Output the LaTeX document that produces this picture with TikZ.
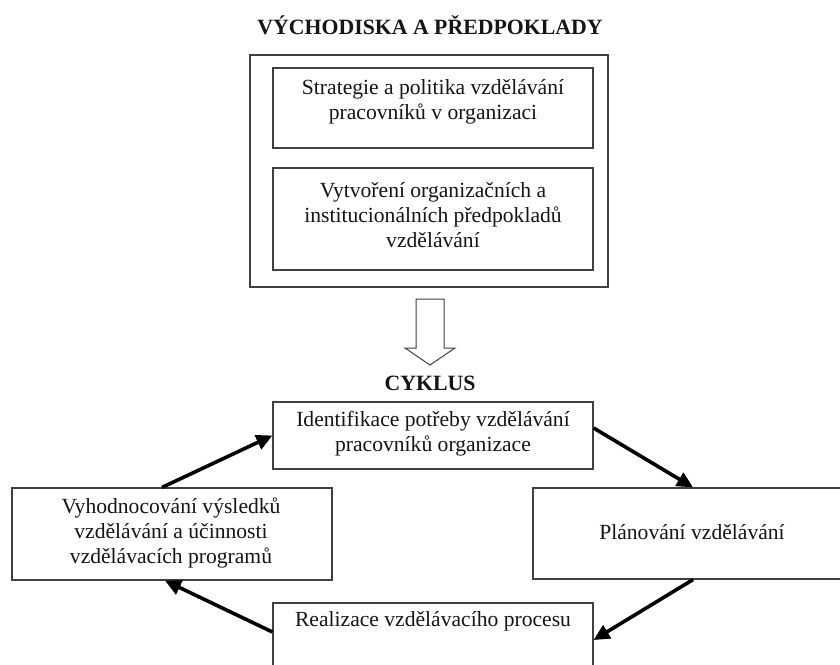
\documentclass[tikz,border=0pt]{standalone}
\usepackage{fontspec}
\setmainfont{Liberation Serif}
\usetikzlibrary{arrows.meta}
\definecolor{boxline}{HTML}{404040}
\definecolor{txt}{HTML}{151515}
\tikzset{
  box/.style={draw=boxline, line width=1.2pt, rectangle, inner sep=0pt},
  boxtext/.style={align=center, inner sep=0pt, text=txt, font=\fontsize{21.6}{25.2}\selectfont},
  heading/.style={inner sep=0pt, text=txt, font=\fontsize{21.8}{24}\selectfont\bfseries},
  flow/.style={line width=3.6pt, -{Triangle[length=16pt,width=15pt]}}
}
\begin{document}
\begin{tikzpicture}[x=1pt,y=-1pt]
\useasboundingbox (0,0) rectangle (840,664);
\clip (0,0) rectangle (840,664);
\fill[white] (0,0) rectangle (840,664);

\node[heading] (title) at (430,25) {VÝCHODISKA A PŘEDPOKLADY};
\node[box, minimum width=358pt, minimum height=232pt] (outer) at (429,171) {};
\node[box, minimum width=320pt, minimum height=80pt] (s1) at (433,108) {};
\node[boxtext] (s1t) at (433,102) {Strategie a politika vzdělávání\\pracovníků v organizaci};
\node[box, minimum width=320pt, minimum height=102pt] (s2) at (433,219) {};
\node[boxtext] (s2t) at (433,215) {Vytvoření organizačních a\\institucionálních předpokladů\\vzdělávání};

\draw[boxline, line width=1pt, fill=white] (416,299) -- (444,299) -- (444,348) -- (455,348) -- (430,365) -- (405,348) -- (416,348) -- cycle;

\node[heading] (cyc) at (430,383) {CYKLUS};

\node[box, minimum width=320pt, minimum height=67pt] (ident) at (433,435.5) {};
\node[boxtext] (identt) at (433,434) {Identifikace potřeby vzdělávání\\pracovníků organizace};
\node[box, minimum width=320pt, minimum height=92pt] (eval) at (172,534) {};
\node[boxtext] (evalt) at (171,533) {Vyhodnocování výsledků\\vzdělávání a účinnosti\\vzdělávacích programů};
\node[box, minimum width=320pt, minimum height=91pt] (plan) at (693,533.5) {};
\node[boxtext] (plant) at (692,532) {Plánování vzdělávání};
\node[box, minimum width=320pt, minimum height=67pt] (real) at (433,636.5) {};
\node[boxtext] (realt) at (433,621) {Realizace vzdělávacího procesu};

\draw[flow] ([xshift=-10pt]eval.north) -- (ident.west);
\draw[flow] ([yshift=7.5pt]ident.east) -- (plan.north);
\draw[flow] (plan.south) -- ([yshift=-3.5pt]real.east);
\draw[flow] ([yshift=4.5pt]real.west) -- ([xshift=-7pt]eval.south);
\end{tikzpicture}
\end{document}
